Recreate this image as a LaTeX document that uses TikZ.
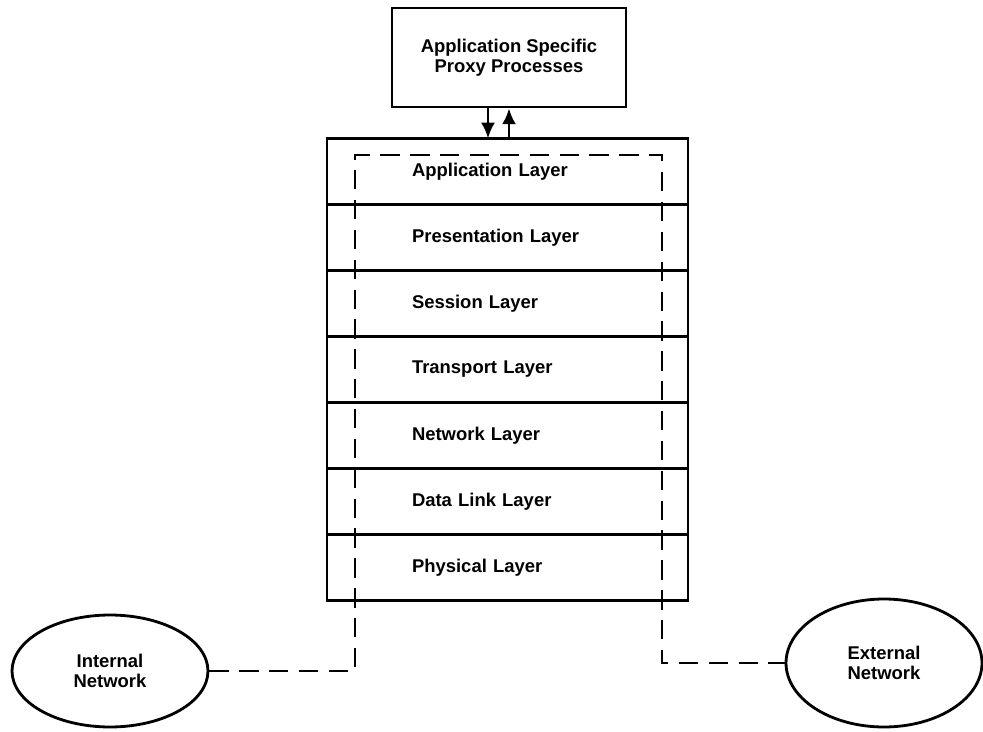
\documentclass[tikz,border=0pt]{standalone}
\usepackage{fontspec}
\setmainfont{Liberation Sans}
\usetikzlibrary{positioning,shapes.geometric,arrows.meta}

\begin{document}
\begin{tikzpicture}[
        x=0.02cm, y=-0.02cm,
        every node/.style={font=\fontsize{10.5}{11.5}\selectfont\bfseries},
        proxybox/.style={rectangle, draw, line width=1.6pt, minimum width=4.68cm, minimum height=1.98cm, align=center},
        layer/.style={rectangle, draw, line width=1.6pt, outer sep=0pt, text width=3.82cm, inner xsep=1.7cm, minimum height=1.32cm, align=left},
        net/.style={ellipse, draw, line width=1.6pt, align=center},
        flow/.style={-{Latex[length=9pt,width=8pt]}, line width=1.6pt},
        dashline/.style={line width=1.6pt, dash pattern=on 11pt off 6pt}
    ]
        \useasboundingbox (0,0) rectangle (983,732);

        % Proxy processes on top
        \node[proxybox] (proxy) at (509,57.5) {Application Specific\\Proxy Processes};

        % OSI stack
        \node[layer] (app) at (507.5,171.5) {Application Layer};
        \node[layer, below=0pt of app] (pres) {Presentation Layer};
        \node[layer, below=0pt of pres] (sess) {Session Layer};
        \node[layer, below=0pt of sess] (trans) {Transport Layer};
        \node[layer, below=0pt of trans] (netw) {Network Layer};
        \node[layer, below=0pt of netw] (link) {Data Link Layer};
        \node[layer, below=0pt of link] (phys) {Physical Layer};

        % Networks on both sides
        \node[net, minimum width=3.92cm, minimum height=2.24cm] (inside) at (110,671) {Internal\\Network};
        \node[net, minimum width=3.92cm, minimum height=2.56cm] (outside) at (884,663) {External\\Network};

        % Arrows between proxy and stack
        \draw[flow] ([xshift=-0.42cm]proxy.south) -- ([xshift=-0.42cm]proxy.south |- app.north);
        \draw[flow] (proxy.south |- app.north) -- (proxy.south);

        % Dashed path through the stack
        \coordinate (dtl) at (355,155);
        \coordinate (dtr) at (662,155);
        \draw[dashline] (inside.east) -| (dtl) -- (dtr) |- (outside.west);
\end{tikzpicture}
\end{document}
